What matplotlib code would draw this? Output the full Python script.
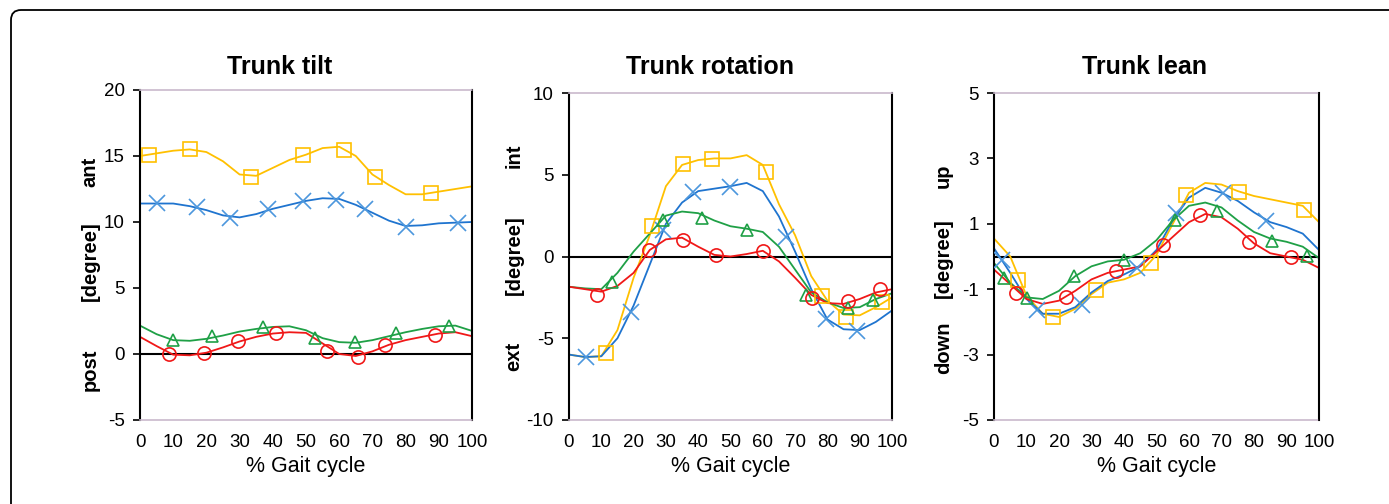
import matplotlib
matplotlib.use("Agg")
import matplotlib.pyplot as plt
from matplotlib.patches import FancyBboxPatch

plt.rcParams["font.family"] = ["Liberation Sans", "DejaVu Sans"]
plt.rcParams["axes.unicode_minus"] = False

# % gait cycle grid for the curves
GAIT = [0, 5, 10, 15, 20, 25, 30, 35, 40, 45, 50, 55, 60, 65, 70, 75, 80, 85, 90, 95, 100]
XTICKS = [0, 10, 20, 30, 40, 50, 60, 70, 80, 90, 100]

# ---- Trunk tilt ----
TILT_YEL = [15.0, 15.2, 15.4, 15.5, 15.3, 14.6, 13.6, 13.5, 14.1, 14.7, 15.1, 15.6, 15.7, 15.0, 13.6, 12.8, 12.1, 12.1, 12.3, 12.5, 12.7]
TILT_BLU = [11.4, 11.4, 11.4, 11.2, 10.9, 10.5, 10.35, 10.6, 11.0, 11.3, 11.6, 11.8, 11.75, 11.3, 10.7, 10.1, 9.7, 9.75, 9.9, 9.95, 10.0]
TILT_GRN = [2.15, 1.5, 1.05, 1.0, 1.15, 1.4, 1.7, 1.9, 2.05, 2.1, 1.8, 1.2, 0.9, 0.85, 1.05, 1.35, 1.65, 1.9, 2.1, 2.15, 1.75]
TILT_RED = [1.3, 0.6, -0.05, -0.1, 0.1, 0.5, 0.95, 1.3, 1.55, 1.65, 1.6, 0.8, 0.0, -0.15, 0.2, 0.7, 1.05, 1.3, 1.55, 1.65, 1.35]
TILT_YEL_MX = [2.7, 15.1, 33.3, 49.2, 61.4, 70.7, 87.6]
TILT_YEL_MY = [15.08, 15.5, 13.43, 15.1, 15.45, 13.43, 12.22]
TILT_BLU_MX = [5.0, 17.1, 27.1, 38.7, 49.0, 59.0, 67.8, 80.1, 95.9]
TILT_BLU_MY = [11.41, 11.1, 10.33, 10.98, 11.6, 11.7, 10.96, 9.65, 9.95]
TILT_GRN_MX = [9.8, 21.8, 37.1, 52.7, 64.9, 77.1, 93.2]
TILT_GRN_MY = [1.05, 1.36, 2.02, 1.19, 0.89, 1.57, 2.12]
TILT_RED_MX = [8.7, 19.3, 29.4, 40.9, 56.2, 65.6, 73.8, 88.9]
TILT_RED_MY = [0.0, 0.05, 1.0, 1.62, 0.25, -0.2, 0.68, 1.44]

# ---- Trunk rotation ----
ROT_YEL = [-6.0, -6.15, -6.1, -4.5, -1.3, 1.3, 4.3, 5.6, 5.9, 6.0, 6.0, 6.2, 5.6, 3.2, 1.3, -1.2, -2.7, -3.55, -3.6, -3.1, -2.5]
ROT_BLU = [-6.0, -6.15, -6.1, -5.0, -3.0, -0.5, 2.0, 3.3, 4.0, 4.15, 4.3, 4.5, 4.0, 2.45, 0.3, -2.0, -3.85, -4.45, -4.5, -4.0, -3.3]
ROT_GRN = [-1.85, -1.95, -2.0, -1.0, 0.3, 1.4, 2.5, 2.75, 2.65, 2.2, 1.85, 1.7, 1.5, 0.6, -0.8, -2.2, -2.8, -3.15, -3.1, -2.6, -2.25]
ROT_RED = [-1.85, -2.0, -2.15, -1.8, -1.0, 0.4, 1.05, 1.15, 0.6, 0.1, 0.0, 0.15, 0.35, -0.3, -1.3, -2.35, -2.85, -2.9, -2.6, -2.2, -2.0]
ROT_YEL_MX = [11.5, 25.8, 35.4, 44.4, 60.9, 78.2, 85.9, 97.0]
ROT_YEL_MY = [-5.91, 1.88, 5.67, 5.98, 5.14, -2.4, -3.73, -2.79]
ROT_BLU_MX = [5.3, 19.1, 29.2, 38.5, 49.8, 67.1, 79.6, 89.1]
ROT_BLU_MY = [-6.15, -3.4, 1.63, 3.94, 4.28, 1.22, -3.83, -4.54]
ROT_GRN_MX = [13.2, 29.2, 41.1, 55.0, 73.4, 86.5, 94.2]
ROT_GRN_MY = [-1.53, 2.24, 2.35, 1.63, -2.34, -3.16, -2.65]
ROT_RED_MX = [8.6, 24.8, 35.2, 45.4, 60.0, 75.3, 86.5, 96.3]
ROT_RED_MY = [-2.34, 0.41, 1.02, 0.1, 0.31, -2.55, -2.75, -2.0]

# ---- Trunk lean ----
LEAN_YEL = [0.55, 0.0, -1.2, -1.75, -1.85, -1.6, -1.15, -0.8, -0.7, -0.5, 0.05, 1.0, 1.95, 2.25, 2.2, 2.0, 1.85, 1.75, 1.65, 1.55, 1.05]
LEAN_BLU = [0.25, -0.5, -1.3, -1.75, -1.75, -1.55, -1.1, -0.75, -0.55, -0.3, 0.2, 1.1, 1.8, 2.1, 1.95, 1.7, 1.35, 1.05, 0.9, 0.7, 0.2]
LEAN_GRN = [-0.2, -0.8, -1.25, -1.3, -1.05, -0.6, -0.3, -0.15, -0.1, 0.1, 0.5, 1.1, 1.55, 1.65, 1.5, 1.1, 0.75, 0.55, 0.45, 0.3, -0.05]
LEAN_RED = [-0.4, -0.85, -1.3, -1.45, -1.35, -1.05, -0.7, -0.5, -0.4, -0.3, 0.15, 0.6, 1.05, 1.3, 1.2, 0.85, 0.4, 0.1, 0.0, -0.1, -0.35]
LEAN_YEL_MX = [7.5, 18.0, 31.4, 48.2, 59.2, 75.4, 95.4]
LEAN_YEL_MY = [-0.71, -1.84, -1.02, -0.2, 1.87, 1.96, 1.43]
LEAN_BLU_MX = [2.4, 13.1, 27.0, 43.9, 55.9, 70.5, 83.8]
LEAN_BLU_MY = [-0.1, -1.63, -1.48, -0.36, 1.33, 1.94, 1.1]
LEAN_GRN_MX = [3.1, 10.3, 24.7, 40.1, 55.6, 68.5, 85.4, 96.4]
LEAN_GRN_MY = [-0.66, -1.27, -0.61, -0.1, 1.12, 1.38, 0.48, 0.02]
LEAN_RED_MX = [6.8, 22.1, 37.5, 52.1, 63.5, 78.4, 91.5]
LEAN_RED_MY = [-1.12, -1.24, -0.44, 0.36, 1.26, 0.43, -0.02]

YEL = "#FFC000"
BLU = "#1F74CF"
BLU_MK = "#4C97DD"
GRN = "#1FA046"
RED = "#F01818"


def draw_panel(ax, curves, marks, ylim, yticks, title, title_x, top_word, bot_word, lab_x, lab_pos):
    ax.set_xlim(0, 100)
    ax.set_ylim(*ylim)
    ax.axhline(0, color="black", lw=1.5, zorder=1)
    for (y, color), (mx, my, mk, mcolor) in zip(curves, marks):
        ax.plot(GAIT, y, color=color, lw=1.3, zorder=2)
        size = {"s": 10, "x": 11, "^": 9, "o": 9.5}[mk]
        ax.plot(mx, my, linestyle="none", marker=mk, ms=size, mfc="none", mec=mcolor,
                mew=1.2, zorder=3)
    ax.set_xticks(XTICKS)
    ax.set_yticks(yticks)
    ax.tick_params(axis="x", length=0, pad=10, labelsize=13.5)
    ax.tick_params(axis="y", length=5, width=1.2, direction="out", pad=6, labelsize=13.5)
    for s in ("left", "right"):
        ax.spines[s].set_color("black")
        ax.spines[s].set_linewidth(1.5)
    for s in ("top", "bottom"):
        ax.spines[s].set_color("#C9B9CC")
        ax.spines[s].set_linewidth(1.2)
        ax.spines[s].set_linestyle((0, (1.5, 1)))
    ax.set_xlabel("% Gait cycle", fontsize=15.5, labelpad=4)
    fig = ax.figure
    fig.text(title_x / 1389, 1 - 67 / 504, title, fontsize=18, fontweight="bold",
             ha="center", va="center")
    for word, pos in zip((top_word, "[degree]", bot_word), lab_pos):
        ax.text(lab_x, pos, word, transform=ax.transAxes, rotation=90, fontsize=14.5,
                fontweight="bold", ha="center", va="center")


fig = plt.figure(figsize=(13.89, 5.04), dpi=100)

ax1 = fig.add_axes([140 / 1389, 84 / 504, 332 / 1389, 330 / 504])
ax2 = fig.add_axes([569 / 1389, 84 / 504, 323 / 1389, 327 / 504])
ax3 = fig.add_axes([994 / 1389, 84 / 504, 325 / 1389, 327 / 504])

draw_panel(ax1,
           [(TILT_YEL, YEL), (TILT_BLU, BLU), (TILT_GRN, GRN), (TILT_RED, RED)],
           [(TILT_YEL_MX, TILT_YEL_MY, "s", YEL), (TILT_BLU_MX, TILT_BLU_MY, "x", BLU_MK),
            (TILT_GRN_MX, TILT_GRN_MY, "^", GRN), (TILT_RED_MX, TILT_RED_MY, "o", RED)],
           (-5, 20), [-5, 0, 5, 10, 15, 20], "Trunk tilt", 280, "ant", "post",
           -0.15, (0.752, 0.48, 0.152))

draw_panel(ax2,
           [(ROT_YEL, YEL), (ROT_BLU, BLU), (ROT_GRN, GRN), (ROT_RED, RED)],
           [(ROT_YEL_MX, ROT_YEL_MY, "s", YEL), (ROT_BLU_MX, ROT_BLU_MY, "x", BLU_MK),
            (ROT_GRN_MX, ROT_GRN_MY, "^", GRN), (ROT_RED_MX, ROT_RED_MY, "o", RED)],
           (-10, 10), [-10, -5, 0, 5, 10], "Trunk rotation", 710, "int", "ext",
           -0.17, (0.807, 0.505, 0.193))

draw_panel(ax3,
           [(LEAN_YEL, YEL), (LEAN_BLU, BLU), (LEAN_GRN, GRN), (LEAN_RED, RED)],
           [(LEAN_YEL_MX, LEAN_YEL_MY, "s", YEL), (LEAN_BLU_MX, LEAN_BLU_MY, "x", BLU_MK),
            (LEAN_GRN_MX, LEAN_GRN_MY, "^", GRN), (LEAN_RED_MX, LEAN_RED_MY, "o", RED)],
           (-5, 5), [-5, -3, -1, 1, 3, 5], "Trunk lean", 1145, "up", "down",
           -0.155, (0.746, 0.495, 0.22))

# rounded outer frame, running off the right and bottom edges
frame = FancyBboxPatch((11, -60), 1500, 494 + 60, boxstyle="round,pad=0,rounding_size=10",
                       transform=None, fill=False, edgecolor="black", lw=1.3)
fig.patches.append(frame)

fig.savefig("out.png", dpi=100)
